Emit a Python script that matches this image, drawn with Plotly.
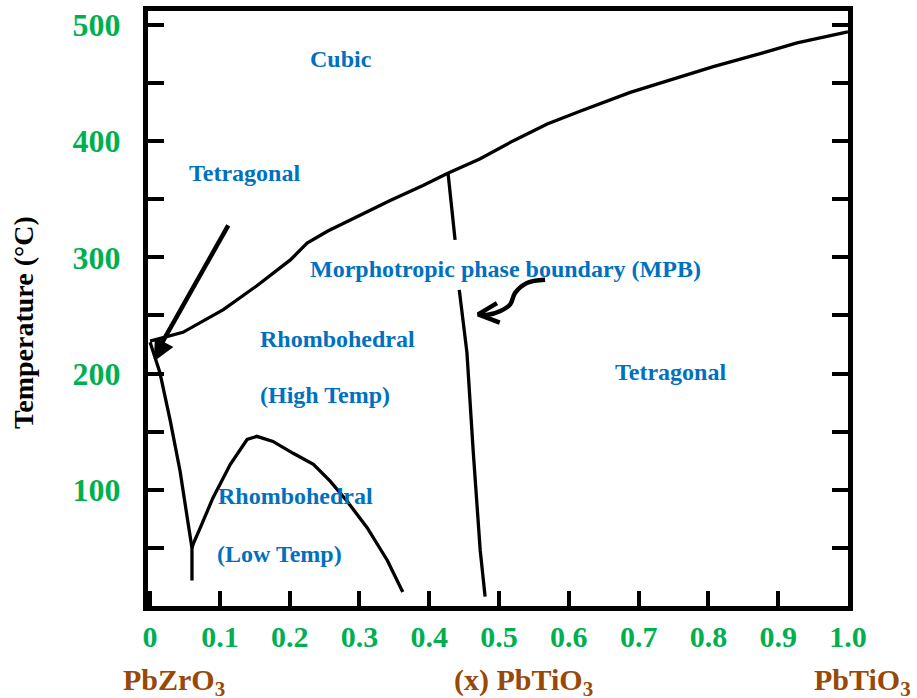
import plotly.graph_objects as go

# ---------------- data (x = mole fraction PbTiO3, T in °C) ----------------
cubic_x = [0.0, 0.010, 0.047, 0.105, 0.153, 0.201, 0.225, 0.254, 0.297, 0.344,
           0.391, 0.425, 0.473, 0.520, 0.569, 0.616, 0.688, 0.759, 0.807, 0.878,
           0.927, 0.993, 1.0]
cubic_T = [228, 229.5, 235.5, 255, 275.6, 297.8, 312.3, 322.5, 335.3, 349,
           361.8, 372, 384.8, 400.2, 414.7, 425.8, 442, 455.6, 464.2, 476,
           484.6, 493.2, 494]

mpb_x = [0.427, 0.437, None, 0.443, 0.454, 0.463, 0.473, 0.480]
mpb_T = [372, 315, None, 272, 218, 133, 48, 8]

afe_x = [0.0, 0.014, 0.029, 0.043, 0.054, 0.060, 0.060]
afe_T = [227, 201, 159, 116, 73, 50, 22]

lowT_x = [0.060, 0.062, 0.072, 0.090, 0.115, 0.139, 0.153, 0.176, 0.205,
          0.234, 0.258, 0.282, 0.311, 0.340, 0.362]
lowT_T = [50, 53.8, 67.4, 93, 122, 143.3, 146, 141.6, 131.4,
          122, 107.5, 90.4, 67.4, 39.2, 12]

# curly arrow pointing at the MPB
wave_x = [0.566, 0.540, 0.523, 0.516, 0.502, 0.484, 0.472]
wave_T = [280.7, 278.0, 269.5, 259.5, 253.8, 250.6, 250.9]
wave_head_x = [0.497, 0.470, 0.501]
wave_head_T = [260.6, 250.9, 243.9]

# straight arrow pointing at the corner near x = 0
arrow_x = [0.112, 0.012]
arrow_T = [327.6, 221]
arrow_head_x = [0.0086, 0.0072, 0.030, 0.0086]
arrow_head_T = [229.5, 212.5, 222.7, 229.5]

x_ticks = [0, 0.1, 0.2, 0.3, 0.4, 0.5, 0.6, 0.7, 0.8, 0.9, 1.0]
x_ticktext = ["0", "0.1", "0.2", "0.3", "0.4", "0.5", "0.6", "0.7", "0.8", "0.9", "1.0"]
y_ticks = [0, 50, 100, 150, 200, 250, 300, 350, 400, 450, 500]
y_ticktext = ["", "", "100", "", "200", "", "300", "", "400", "", "500"]

phase_labels = [
    ("Cubic", 0.274, 471),
    ("Tetragonal", 0.135, 373),
    ("Morphotropic phase boundary (MPB)", 0.509, 290),
    ("Rhombohedral", 0.268, 230),
    ("(High Temp)", 0.251, 182),
    ("Tetragonal", 0.745, 201),
    ("Rhombohedral", 0.208, 95),
    ("(Low Temp)", 0.186, 45),
]

# bottom composition labels (paper x positions)
bottom_labels = [
    ("PbZrO<sub>3</sub>", 0.037),
    ("(x) PbTiO<sub>3</sub>", 0.536),
    ("PbTiO<sub>3</sub>", 1.02),
]

SERIF = "Liberation Serif"
GREEN = "#00B050"
BLUE = "#0070C0"
BROWN = "#984807"

fig = go.Figure()
line_style = dict(color="black", width=3.3)
for xs, ys in [(cubic_x, cubic_T), (mpb_x, mpb_T), (afe_x, afe_T), (lowT_x, lowT_T)]:
    fig.add_trace(go.Scatter(x=xs, y=ys, mode="lines", line=line_style,
                             hoverinfo="skip", connectgaps=False))

arrow_style = dict(color="black", width=4.5)
fig.add_trace(go.Scatter(x=wave_x, y=wave_T, mode="lines",
                         line=dict(color="black", width=4.5, shape="spline"),
                         hoverinfo="skip"))
for xs, ys in [(wave_head_x, wave_head_T), (arrow_x, arrow_T)]:
    fig.add_trace(go.Scatter(x=xs, y=ys, mode="lines", line=arrow_style,
                             hoverinfo="skip"))
fig.add_trace(go.Scatter(x=arrow_head_x, y=arrow_head_T, mode="lines", fill="toself",
                         fillcolor="black", line=dict(color="black", width=2.5),
                         hoverinfo="skip"))

annotations = []
for txt, x, y in phase_labels:
    annotations.append(dict(x=x, y=y, xref="x", yref="y", text=txt, showarrow=False,
                            font=dict(family=SERIF, size=24, color=BLUE, weight="bold"),
                            xanchor="center", yanchor="middle"))
for txt, x in bottom_labels:
    annotations.append(dict(x=x, y=-0.128, xref="paper", yref="paper", text=txt, showarrow=False,
                            font=dict(family=SERIF, size=30, color=BROWN, weight="bold"),
                            xanchor="center", yanchor="middle"))
annotations.append(dict(x=-0.179, y=0.477, xref="paper", yref="paper",
                        text="Temperature (°C)", textangle=-90, showarrow=False,
                        font=dict(family=SERIF, size=28, color="black", weight="bold"),
                        xanchor="center", yanchor="middle"))

fig.update_layout(
    width=917, height=698,
    margin=dict(l=148, r=69, t=6, b=92),
    paper_bgcolor="white", plot_bgcolor="white",
    showlegend=False,
    annotations=annotations,
    xaxis=dict(range=[-0.003, 1.0], tickmode="array", tickvals=x_ticks, ticktext=x_ticktext,
               ticks="inside", ticklen=15, tickwidth=4, tickcolor="black",
               showline=True, linewidth=5, linecolor="black", mirror=True,
               showgrid=False, zeroline=False, ticklabelstandoff=0,
               tickfont=dict(family=SERIF, size=30, color=GREEN, weight="bold")),
    yaxis=dict(range=[0, 512], tickmode="array", tickvals=y_ticks, ticktext=y_ticktext,
               ticks="inside", ticklen=16, tickwidth=4, tickcolor="black",
               showline=True, linewidth=5, linecolor="black", mirror="ticks",
               showgrid=False, zeroline=False, ticklabelstandoff=16,
               tickfont=dict(family=SERIF, size=32, color=GREEN, weight="bold")),
)

fig.write_html("out.html", config={"displayModeBar": False},
               post_script="document.body.style.margin='0px';")
